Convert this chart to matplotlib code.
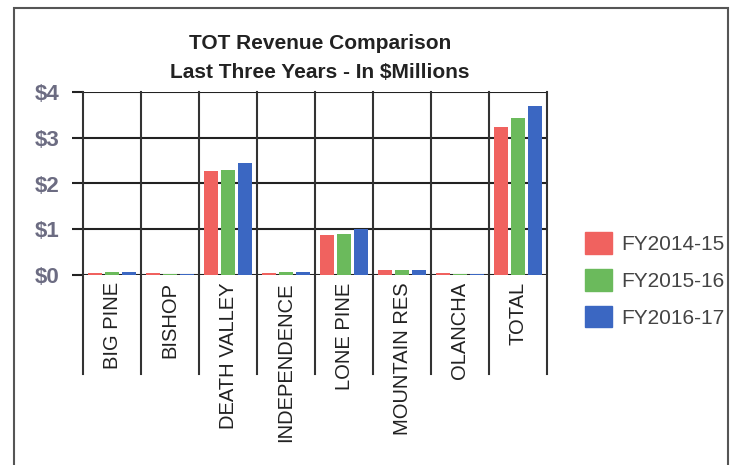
import matplotlib.pyplot as plt
import numpy as np
from matplotlib.patches import Rectangle, Patch

plt.rcParams['font.family'] = ['Liberation Sans', 'DejaVu Sans']

# data ($ millions)
categories = ['BIG PINE', 'BISHOP', 'DEATH VALLEY', 'INDEPENDENCE', 'LONE PINE',
              'MOUNTAIN RES', 'OLANCHA', 'TOTAL']
fy1415 = [0.04, 0.04, 2.27, 0.04, 0.88, 0.12, 0.04, 3.24]
fy1516 = [0.07, 0.02, 2.29, 0.06, 0.90, 0.11, 0.02, 3.43]
fy1617 = [0.07, 0.03, 2.45, 0.07, 1.01, 0.12, 0.03, 3.70]
series_names = ['FY2014-15', 'FY2015-16', 'FY2016-17']
yticks = [0, 1, 2, 3, 4]
ytick_labels = ['$0', '$1', '$2', '$3', '$4']

colors = ['#f0625f', '#6bba5c', '#3b67c2']

fig = plt.figure(figsize=(7.46, 4.65), dpi=100)
fig.patches.append(Rectangle((14 / 746, -0.01), 714 / 746, 1 - 8 / 465 + 0.01,
                             transform=fig.transFigure, fill=False,
                             edgecolor='#555555', linewidth=1.5))

ax = fig.add_axes([83 / 746, 1 - 275 / 465, 464 / 746, 183 / 465])
x = np.arange(len(categories))
w = 0.24
for i, vals in enumerate([fy1415, fy1516, fy1617]):
    ax.bar(x + (i - 1) * 0.29, vals, width=w, color=colors[i], zorder=3,
           label=series_names[i])

ax.set_xlim(-0.5, len(categories) - 0.5)
ax.set_ylim(0, 4)
ax.set_yticks(yticks)
ax.set_yticklabels(ytick_labels, fontsize=16, fontweight='bold', color='#6c6c82')
ax.tick_params(axis='y', length=8, width=1.5, color='#222222', pad=9)
ax.tick_params(axis='x', length=0)
ax.set_xticks([])
for y in yticks:
    ax.axhline(y, color='#222222', linewidth=1.5, zorder=1)
for s in ax.spines.values():
    s.set_visible(False)

trans = ax.get_xaxis_transform()
for b in np.arange(-0.5, len(categories)):
    ax.plot([b, b], [-0.54, 1.0], transform=trans, color='#333333',
            linewidth=1.5, clip_on=False, zorder=2)

for xi, name in zip(x, categories):
    ax.text(xi, -0.04, name, transform=trans, rotation=90, ha='center',
            va='top', fontsize=14.5, color='#222222')

fig.text(0.429, 0.907, 'TOT Revenue Comparison', ha='center', va='center',
         fontsize=15, fontweight='bold', color='#222222')
fig.text(0.429, 0.845, 'Last Three Years - In $Millions', ha='center',
         va='center', fontsize=15, fontweight='bold', color='#222222')

handles = [Patch(color=c) for c in colors]
fig.legend(handles, series_names, loc='center left',
           bbox_to_anchor=(566 / 746, 1 - 280 / 465), frameon=False,
           fontsize=15, handlelength=1.3, handleheight=1.2,
           handletextpad=0.45, labelspacing=0.72, labelcolor='#444444')

fig.savefig('out.png', dpi=100)
